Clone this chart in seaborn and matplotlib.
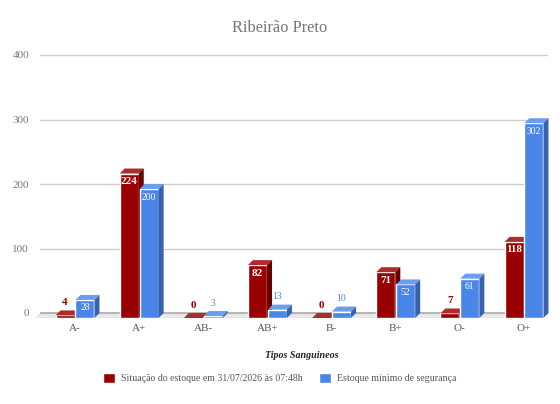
import matplotlib
matplotlib.use('Agg')
import matplotlib.pyplot as plt
import matplotlib.patches as mpatches
import pandas as pd
import seaborn as sns

# Data
tipos = ['A-', 'A+', 'AB-', 'AB+', 'B-', 'B+', 'O-', 'O+']
estoque = [4, 224, 0, 82, 0, 71, 7, 118]
minimo = [28, 200, 3, 13, 10, 52, 61, 302]
serie_estoque = 'Situação do estoque em 31/07/2026 às 07:48h'
serie_minimo = 'Estoque mínimo de segurança'

df = pd.DataFrame({
    'tipo': tipos * 2,
    'valor': estoque + minimo,
    'serie': [serie_estoque] * len(tipos) + [serie_minimo] * len(tipos),
})

sns.set_style('white')
plt.rcParams['font.family'] = ['Liberation Serif', 'DejaVu Serif']

RED, RED_TOP, RED_SIDE = '#990000', '#b02c2c', '#680000'
BLUE, BLUE_TOP, BLUE_SIDE = '#4a86e8', '#6b9ef0', '#3862aa'

W, H = 560, 404
fig = plt.figure(figsize=(W / 100, H / 100), dpi=100)

# axes in pixels: x 40..548, y 50..318 ; back plane zero at 313
px_per_unit = 0.645
ax_left, ax_right, ax_top, ax_bot = 40, 548, 50, 318
ax = fig.add_axes([ax_left / W, (H - ax_bot) / H,
                   (ax_right - ax_left) / W, (ax_bot - ax_top) / H])
ylo = (313 - ax_bot) / px_per_unit
yhi = (313 - ax_top) / px_per_unit
ax.set_ylim(ylo, yhi)
px_per_cat = 64.14
xlo = -35 / px_per_cat
xhi = 7 + (ax_right - ax_left - 484) / px_per_cat

sns.barplot(data=df, x='tipo', y='valor', hue='serie', order=tipos,
            hue_order=[serie_estoque, serie_minimo],
            palette=[RED, BLUE], width=0.62, gap=0.04, saturation=1,
            legend=False, ax=ax, zorder=3)
ax.set_xlim(xlo, xhi)

depth = 5
dx = depth / px_per_cat
dy = depth / px_per_unit

# grid on the back plane
for v in [100, 200, 300, 400]:
    ax.axhline(v, color='#cccccc', lw=1, zorder=0)
# floor
floor = mpatches.Polygon([(xlo, 0), (xhi, 0), (xhi - dx, -dy), (xlo - dx, -dy)],
                         closed=True, facecolor='#e8e8e8', edgecolor='none',
                         zorder=1, clip_on=False)
ax.add_patch(floor)
ax.plot([xlo, xhi], [0, 0], color='#aaaaaa', lw=1.2, zorder=1.5)

bars = list(ax.patches)
bars = [b for b in bars if isinstance(b, mpatches.Rectangle) and b is not floor]
n = len(tipos)
for i, bar in enumerate(bars):
    is_red = i < n
    val = estoque[i] if is_red else minimo[i - n]
    z = 3 if is_red else 4
    bar.set_y(-dy)
    bar.set_height(val)
    bar.set_zorder(z)
    bar.set_clip_on(False)
    x0 = bar.get_x()
    x1 = x0 + bar.get_width()
    y0 = -dy
    y1 = val - dy
    top = mpatches.Polygon([(x0, y1), (x1, y1), (x1 + dx, y1 + dy), (x0 + dx, y1 + dy)],
                           closed=True, facecolor=RED_TOP if is_red else BLUE_TOP,
                           edgecolor='none', zorder=z, clip_on=False)
    side = mpatches.Polygon([(x1, y0), (x1 + dx, y0 + dy), (x1 + dx, y1 + dy), (x1, y1)],
                            closed=True, facecolor=RED_SIDE if is_red else BLUE_SIDE,
                            edgecolor='none', zorder=z, clip_on=False)
    ax.add_patch(top)
    ax.add_patch(side)
    xc = (x0 + x1) / 2
    weight = 'bold' if is_red else 'normal'
    size = 8 if is_red else 7
    if val * px_per_unit > 15:
        ax.text(xc, y1 - 8 / px_per_unit, str(val), ha='center', va='center',
                color='white', fontsize=size, fontweight=weight, zorder=6)
    else:
        ax.text(xc, y1 + 13 / px_per_unit, str(val), ha='center', va='center',
                color=RED if is_red else BLUE, fontsize=size, fontweight=weight, zorder=6)

sns.despine(ax=ax, left=True, bottom=True)
ax.set_yticks([0, 100, 200, 300, 400])
ax.tick_params(axis='y', length=0, pad=8, labelsize=8, labelcolor='#777777')
ax.tick_params(axis='x', length=0, pad=4, labelsize=8, labelcolor='#555555')
ax.set_xlabel('')
ax.set_ylabel('')

fig.text(0.5, 1 - 28 / H, 'Ribeirão Preto', ha='center', va='center',
         fontsize=11.8, color='#757575')
fig.text(302 / W, 1 - 356 / H, 'Tipos Sanguineos', ha='center', va='center',
         fontsize=7.2, fontweight='bold', fontstyle='italic', color='#222222')

handles = [mpatches.Patch(facecolor=RED, label=serie_estoque),
           mpatches.Patch(facecolor=BLUE, label=serie_minimo)]
fig.legend(handles=handles, loc='center', bbox_to_anchor=(280 / W, 1 - 378 / H),
           ncol=2, frameon=False, fontsize=7.1, labelcolor='#555555',
           handlelength=1.2, handleheight=1.2, handletextpad=0.6,
           columnspacing=1.7)

fig.savefig('out.png', dpi=100)
